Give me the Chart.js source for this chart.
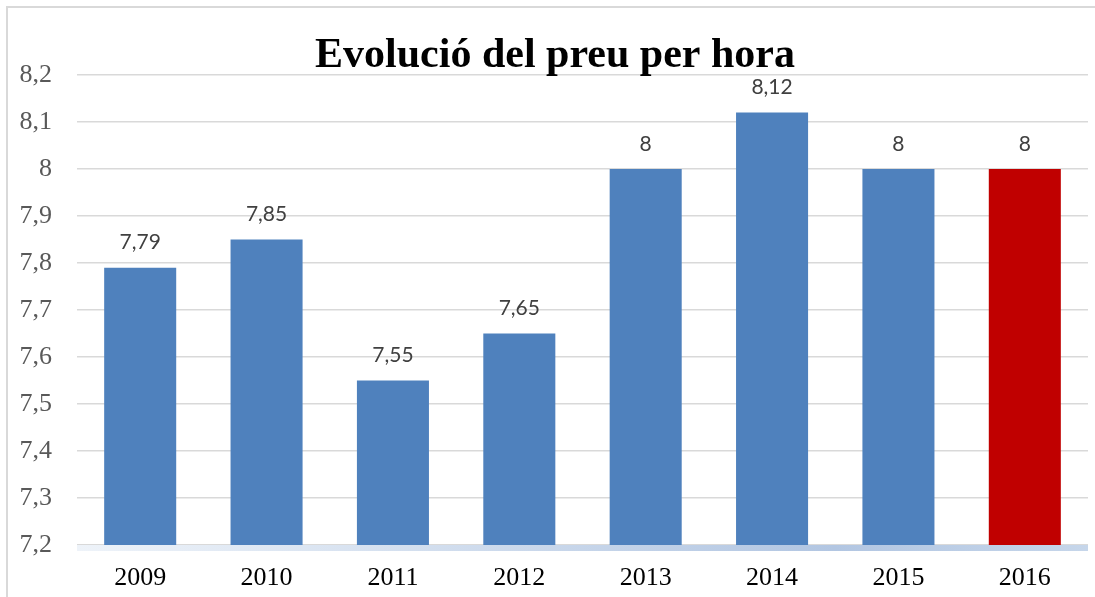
<!DOCTYPE html>
<html>
<head>
<meta charset="utf-8">
<script src="https://cdn.jsdelivr.net/npm/chart.js@4"></script>
<style>
  html, body { margin: 0; padding: 0; background: #fff; }
  #wrap { width: 1095px; height: 597px; }
</style>
</head>
<body>
<div id="wrap"><canvas id="priceChart" width="1095" height="597"></canvas></div>
<script>
const years = ['2009', '2010', '2011', '2012', '2013', '2014', '2015', '2016'];
const prices = [7.79, 7.85, 7.55, 7.65, 8, 8.12, 8, 8];
const barColors = ['#4f81bd', '#4f81bd', '#4f81bd', '#4f81bd', '#4f81bd', '#4f81bd', '#4f81bd', '#c00000'];
const yMin = 7.2;
const yMax = 8.2;
const yStep = 0.1;
const chartTitle = 'Evolució del preu per hora';

function comma(v) {
    return String(Number(v.toFixed(2))).replace('.', ',');
}

// frame, title, value labels and the blue base line
const decorPlugin = {
    id: 'decor',
    beforeDraw(chart) {
        const ctx = chart.ctx;
        ctx.save();
        ctx.strokeStyle = '#d9d9d9';
        ctx.lineWidth = 2;
        ctx.strokeRect(7, 7, chart.width + 10, chart.height + 10);
        ctx.restore();
    },
    afterDatasetsDraw(chart) {
        const ctx = chart.ctx;
        const area = chart.chartArea;
        ctx.save();

        const grad = ctx.createLinearGradient(area.left, 0, area.right, 0);
        grad.addColorStop(0, '#eef3f9');
        grad.addColorStop(0.75, '#b2c6e2');
        grad.addColorStop(1, '#c6d6ea');
        ctx.fillStyle = grad;
        ctx.fillRect(area.left, area.bottom, area.right - area.left, 6);

        ctx.font = '21px Lato';
        ctx.fillStyle = '#404040';
        ctx.textAlign = 'center';
        ctx.textBaseline = 'middle';
        chart.getDatasetMeta(0).data.forEach((bar, i) => {
            ctx.fillText(comma(prices[i]), bar.x, bar.y - 25);
        });

        ctx.font = 'bold 42px "Liberation Serif"';
        ctx.fillStyle = '#000';
        ctx.textBaseline = 'alphabetic';
        ctx.fillText(chartTitle, 555, 67);
        ctx.restore();
    }
};

const ctx = document.getElementById('priceChart').getContext('2d');
new Chart(ctx, {
    type: 'bar',
    data: {
        labels: years,
        datasets: [{
            data: prices,
            backgroundColor: barColors,
            barPercentage: 0.57,
            categoryPercentage: 1
        }]
    },
    options: {
        responsive: false,
        animation: false,
        layout: { padding: { top: 75, right: 7, left: 0, bottom: 0 } },
        plugins: {
            legend: { display: false },
            tooltip: { enabled: false },
            title: { display: false }
        },
        scales: {
            x: {
                grid: { display: false, drawTicks: false },
                border: { display: false },
                ticks: {
                    color: '#000',
                    font: { family: 'Liberation Serif', size: 26 },
                    padding: 18
                },
                afterFit(scale) { scale.height = 52; }
            },
            y: {
                min: yMin,
                max: yMax,
                grid: { color: '#d9d9d9', lineWidth: 1.5, drawTicks: false },
                border: { display: false },
                ticks: {
                    stepSize: yStep,
                    color: '#595959',
                    font: { family: 'Liberation Serif', size: 26 },
                    padding: 25,
                    callback: v => comma(v)
                },
                afterFit(scale) { scale.width = 77; }
            }
        }
    },
    plugins: [decorPlugin]
});
</script>
</body>
</html>
